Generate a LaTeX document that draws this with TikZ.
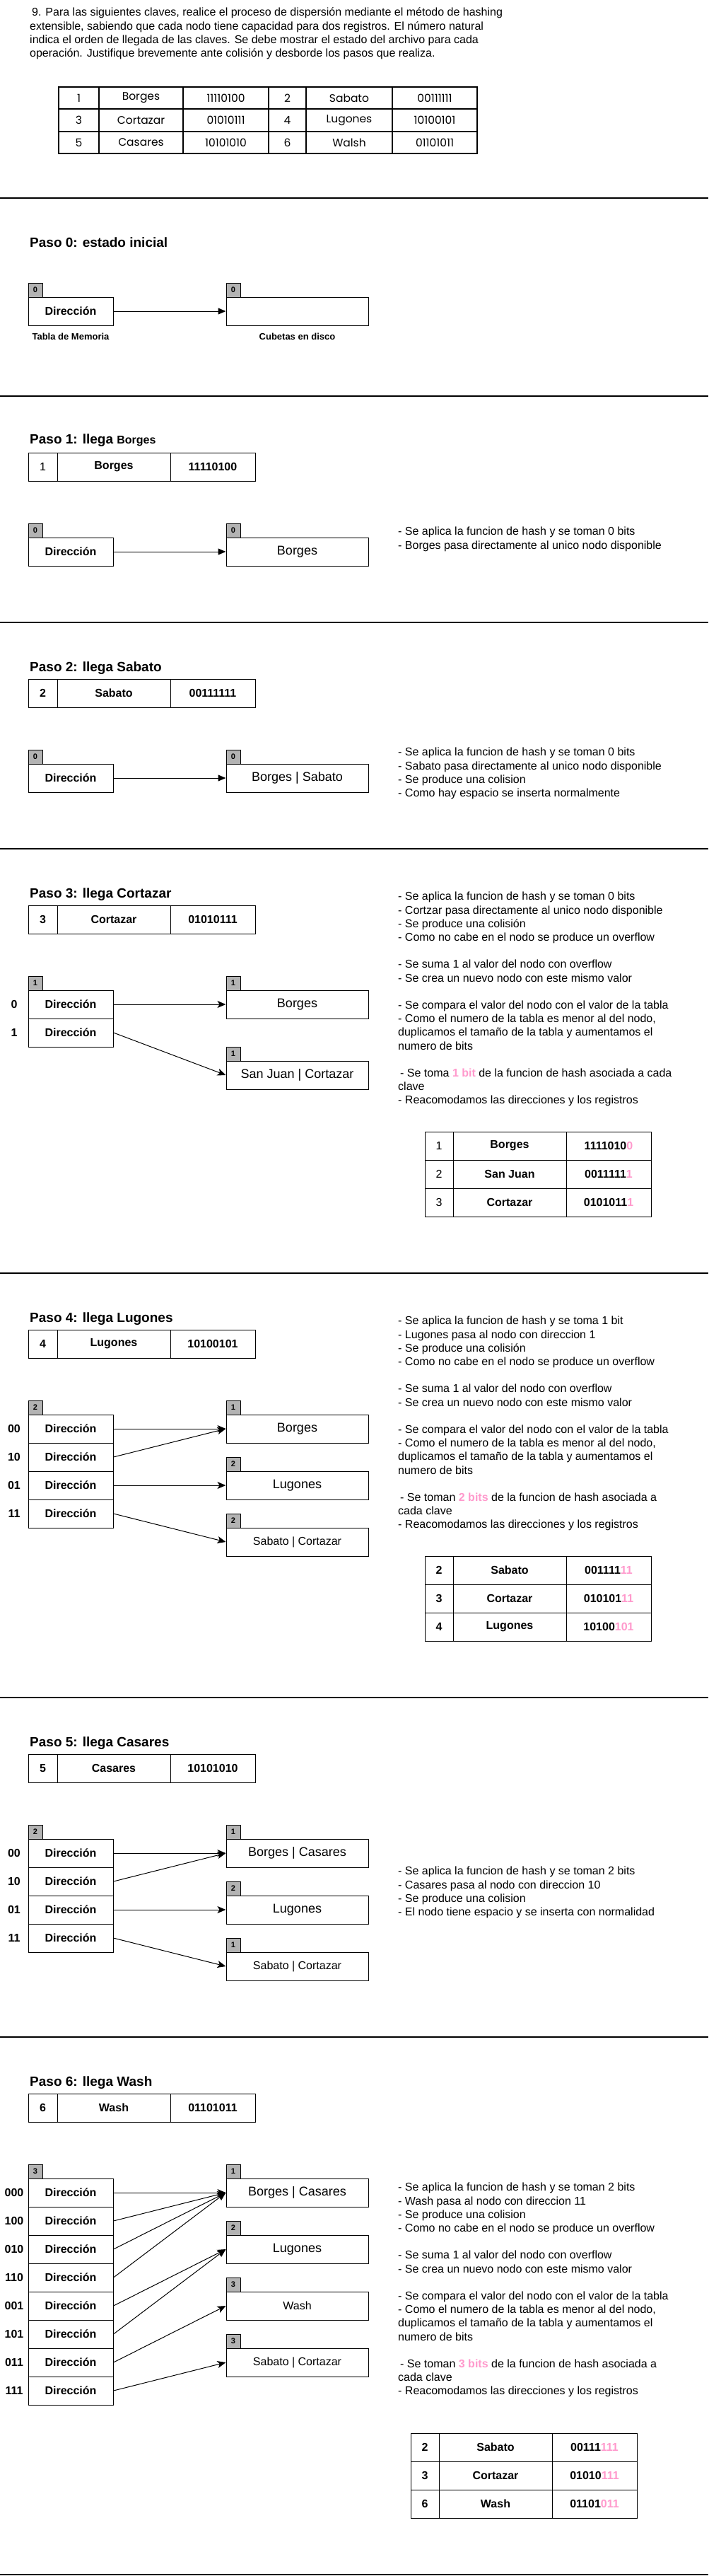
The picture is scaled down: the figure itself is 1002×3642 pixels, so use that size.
\documentclass[tikz,border=0pt]{standalone}
\usepackage{fontspec}
\setmainfont{Liberation Sans}
\newfontfamily\gothicfont{Poppins}
\usetikzlibrary{arrows.meta}

\definecolor{tagGray}{RGB}{179,179,179}
\definecolor{bitPink}{RGB}{255,153,204}
\newcommand{\rosa}[1]{\textbf{\textcolor{bitPink}{#1}}}
\newcommand{\chico}{\fontsize{16}{19}\selectfont}

\begin{document}
\begin{tikzpicture}[x=1pt, y=-1pt,
	titulo/.style={anchor=base west, inner sep=0pt, font=\bfseries\fontsize{19}{23}\selectfont},
	celda/.style={draw, line width=1pt, minimum height=40pt, inner sep=0pt, font=\bfseries\fontsize{16}{19}\selectfont},
	gcelda/.style={draw, line width=1.8pt, minimum height=31.5pt, inner sep=0pt, font=\gothicfont\fontsize{15.5}{18}\selectfont},
	dirbox/.style={draw, line width=1pt, minimum width=120pt, minimum height=40pt, inner sep=0pt, font=\bfseries\fontsize{16}{19}\selectfont},
	cubeta/.style={draw, line width=1pt, minimum width=201pt, minimum height=40pt, inner sep=0pt, font=\fontsize{18}{21}\selectfont},
	prof/.style={draw, line width=1pt, fill=tagGray, minimum width=20pt, minimum height=20pt, inner sep=0pt, font=\bfseries\fontsize{11}{13}\selectfont},
	etiq/.style={inner sep=0pt, font=\bfseries\fontsize{16}{19}\selectfont},
	nota/.style={anchor=north west, align=left, inner sep=0pt, font=\fontsize{16}{19.2}\selectfont},
	flecha/.style={line width=1pt, -{Stealth[length=12pt, width=10pt, inset=3pt]}},
	bloque/.style={line width=1pt, -{Triangle[length=11pt, width=9pt]}},
	corte/.style={line width=1.5pt}
]
	\useasboundingbox (0,0) rectangle (1002,3642);

	% ---- Enunciado ----
	\node[anchor=north west, align=left, inner sep=0pt, font=\fontsize{16}{19.3}\selectfont] (enunciado) at (42,11)
	{\hspace*{3pt}9. Para las siguientes claves, realice el proceso de dispersión mediante el método de hashing\\
	extensible, sabiendo que cada nodo tiene capacidad para dos registros. El número natural\\
	indica el orden de llegada de las claves. Se debe mostrar el estado del archivo para cada\\
	operación. Justifique brevemente ante colisión y desborde los pasos que realiza.};

	% ---- Tabla de claves ----
	\foreach \r/\y/\na/\ka/\ca/\nb/\kb/\cb in {
		1/138.5/1/Borges/11110100/2/Sabato/00111111,
		2/170/3/Cortazar/01010111/4/Lugones/10100101,
		3/201.5/5/Casares/10101010/6/Walsh/01101011
	}
	{
		\node[gcelda, minimum width=57pt] (t\r-1) at (111.5,\y) {\na};
		\node[gcelda, minimum width=119pt] (t\r-2) at (199.5,\y) {\ka};
		\node[gcelda, minimum width=121pt] (t\r-3) at (319.5,\y) {\ca};
		\node[gcelda, minimum width=53pt] (t\r-4) at (406.5,\y) {\nb};
		\node[gcelda, minimum width=122pt] (t\r-5) at (494,\y) {\kb};
		\node[gcelda, minimum width=120pt] (t\r-6) at (615,\y) {\cb};
	}

	% ---- Separadores ----
	\foreach \y in {280,560,880,1200,1800,2400,2880,3640}
	\draw[corte] (0,\y) -- (1002,\y);

	% ---- Titulos de cada paso ----
	\foreach \p/\y/\txt in {
		0/349/Paso 0: estado inicial,
		1/627/Paso 1: llega {\chico Borges},
		2/949/Paso 2: llega Sabato,
		3/1269/Paso 3: llega Cortazar,
		4/1869/Paso 4: llega Lugones,
		5/2469/Paso 5: llega Casares,
		6/2949/Paso 6: llega Wash
	}
	\node[titulo] (h\p) at (42,\y) {\txt};

	% ---- Clave que llega ----
	\foreach \p/\y/\num/\nom/\cod in {
		1/660/{\mdseries 1}/Borges/11110100,
		2/980/2/Sabato/00111111,
		3/1300/3/Cortazar/01010111,
		4/1900/4/Lugones/10100101,
		5/2500/5/Casares/10101010,
		6/2980/6/Wash/01101011
	}
	{
		\node[celda, minimum width=41pt] (k\p-num) at (60.5,\y) {\num};
		\node[celda, minimum width=160pt] (k\p-nom) at (161,\y) {\nom};
		\node[celda, minimum width=120pt] (k\p-cod) at (301,\y) {\cod};
	}

	% ---- Pasos 0 a 2: una direccion, una cubeta ----
	\foreach \p/\y/\d/\txt in {0/440/0/, 1/780/0/Borges, 2/1100/0/Borges | Sabato}
	{
		\node[prof] (d\p-t) at (50,\y-30) {\d};
		\node[dirbox] (d\p1) at (100,\y) {Dirección};
		\node[prof] (c\p-t) at (330,\y-30) {\d};
		\node[cubeta] (c\p a) at (420.5,\y) {\txt};
		\draw[bloque] (d\p1.east) -- (c\p a.west);
	}
	\node[etiq, font=\bfseries\fontsize{13}{15}\selectfont] (memoria) at (100,476) {Tabla de Memoria};
	\node[etiq, font=\bfseries\fontsize{13}{15}\selectfont] (disco) at (420.5,476) {Cubetas en disco};

	\node[nota] (n1) at (563,745) {- Se aplica la funcion de hash y se toman 0 bits\\
	- Borges pasa directamente al unico nodo disponible};
	\node[nota] (n2) at (563,1057) {- Se aplica la funcion de hash y se toman 0 bits\\
	- Sabato pasa directamente al unico nodo disponible\\
	- Se produce una colision\\
	- Como hay espacio se inserta normalmente};

	% ---- Paso 3 ----
	\node[prof] (d3-t) at (50,1390) {1};
	\foreach \lab [count=\i] in {0,1}
	{
		\node[dirbox] (d3\i) at (100,1380+40*\i) {Dirección};
		\node[etiq] (d3\i-lab) at (20,1380+40*\i) {\lab};
	}
	\foreach \n/\y/\d/\txt in {a/1420/1/Borges, b/1520/1/San Juan | Cortazar}
	{
		\node[prof] (c3\n-t) at (330,\y-30) {\d};
		\node[cubeta] (c3\n) at (420.5,\y) {\txt};
	}
	\foreach \i/\c in {1/a, 2/b}
	\draw[flecha] (d3\i.east) -- (c3\c.west);

	\node[nota] (n3) at (563,1261) {- Se aplica la funcion de hash y se toman 0 bits\\
	- Cortzar pasa directamente al unico nodo disponible\\
	- Se produce una colisión\\
	- Como no cabe en el nodo se produce un overflow\\[19.2pt]
	- Se suma 1 al valor del nodo con overflow\\
	- Se crea un nuevo nodo con este mismo valor\\[19.2pt]
	- Se compara el valor del nodo con el valor de la tabla\\
	- Como el numero de la tabla es menor al del nodo,\\
	duplicamos el tamaño de la tabla y aumentamos el\\
	numero de bits\\[19.2pt]
	\hspace*{3pt}- Se toma \rosa{1 bit} de la funcion de hash asociada a cada\\
	clave\\
	- Reacomodamos las direcciones y los registros};

	\foreach \r/\num/\nom/\cod in {1/1/Borges/1111010\rosa{0}, 2/2/San Juan/0011111\rosa{1}, 3/3/Cortazar/0101011\rosa{1}}
	{
		\node[celda, minimum width=40pt, font=\fontsize{16}{19}\selectfont] (r3-\r-num) at (621,1580+40*\r) {\num};
		\node[celda, minimum width=160pt] (r3-\r-nom) at (721,1580+40*\r) {\nom};
		\node[celda, minimum width=120pt] (r3-\r-cod) at (861,1580+40*\r) {\cod};
	}

	% ---- Paso 4 ----
	\node[prof] (d4-t) at (50,1990) {2};
	\foreach \lab [count=\i] in {00,10,01,11}
	{
		\node[dirbox] (d4\i) at (100,1980+40*\i) {Dirección};
		\node[etiq] (d4\i-lab) at (20,1980+40*\i) {\lab};
	}
	\foreach \n/\y/\d/\txt in {a/2020/1/Borges, b/2100/2/Lugones, c/2180/2/{\chico Sabato | Cortazar}}
	{
		\node[prof] (c4\n-t) at (330,\y-30) {\d};
		\node[cubeta] (c4\n) at (420.5,\y) {\txt};
	}
	\foreach \i/\c in {1/a, 2/a, 3/b, 4/c}
	\draw[flecha] (d4\i.east) -- (c4\c.west);

	\node[nota] (n4) at (563,1861) {- Se aplica la funcion de hash y se toma 1 bit\\
	- Lugones pasa al nodo con direccion 1\\
	- Se produce una colisión\\
	- Como no cabe en el nodo se produce un overflow\\[19.2pt]
	- Se suma 1 al valor del nodo con overflow\\
	- Se crea un nuevo nodo con este mismo valor\\[19.2pt]
	- Se compara el valor del nodo con el valor de la tabla\\
	- Como el numero de la tabla es menor al del nodo,\\
	duplicamos el tamaño de la tabla y aumentamos el\\
	numero de bits\\[19.2pt]
	\hspace*{3pt}- Se toman \rosa{2 bits} de la funcion de hash asociada a\\
	cada clave\\
	- Reacomodamos las direcciones y los registros};

	\foreach \r/\num/\nom/\cod in {1/2/Sabato/001111\rosa{11}, 2/3/Cortazar/010101\rosa{11}, 3/4/Lugones/10100\rosa{101}}
	{
		\node[celda, minimum width=40pt] (r4-\r-num) at (621,2180+40*\r) {\num};
		\node[celda, minimum width=160pt] (r4-\r-nom) at (721,2180+40*\r) {\nom};
		\node[celda, minimum width=120pt] (r4-\r-cod) at (861,2180+40*\r) {\cod};
	}

	% ---- Paso 5 ----
	\node[prof] (d5-t) at (50,2590) {2};
	\foreach \lab [count=\i] in {00,10,01,11}
	{
		\node[dirbox] (d5\i) at (100,2580+40*\i) {Dirección};
		\node[etiq] (d5\i-lab) at (20,2580+40*\i) {\lab};
	}
	\foreach \n/\y/\d/\txt in {a/2620/1/Borges | Casares, b/2700/2/Lugones, c/2780/1/{\chico Sabato | Cortazar}}
	{
		\node[prof] (c5\n-t) at (330,\y-30) {\d};
		\node[cubeta] (c5\n) at (420.5,\y) {\txt};
	}
	\foreach \i/\c in {1/a, 2/a, 3/b, 4/c}
	\draw[flecha] (d5\i.east) -- (c5\c.west);

	\node[nota] (n5) at (563,2639) {- Se aplica la funcion de hash y se toman 2 bits\\
	- Casares pasa al nodo con direccion 10\\
	- Se produce una colision\\
	- El nodo tiene espacio y se inserta con normalidad};

	% ---- Paso 6 ----
	\node[prof] (d6-t) at (50,3070) {3};
	\foreach \lab [count=\i] in {000,100,010,110,001,101,011,111}
	{
		\node[dirbox] (d6\i) at (100,3060+40*\i) {Dirección};
		\node[etiq] (d6\i-lab) at (20,3060+40*\i) {\lab};
	}
	\foreach \n/\y/\d/\txt in {a/3100/1/Borges | Casares, b/3180/2/Lugones, c/3260/3/{\chico Wash}, d/3340/3/{\chico Sabato | Cortazar}}
	{
		\node[prof] (c6\n-t) at (330,\y-30) {\d};
		\node[cubeta] (c6\n) at (420.5,\y) {\txt};
	}
	\foreach \i/\c in {1/a, 2/a, 3/a, 4/a, 5/b, 6/b, 7/c, 8/d}
	\draw[flecha] (d6\i.east) -- (c6\c.west);

	\node[nota] (n6) at (563,3086) {- Se aplica la funcion de hash y se toman 2 bits\\
	- Wash pasa al nodo con direccion 11\\
	- Se produce una colision\\
	- Como no cabe en el nodo se produce un overflow\\[19.2pt]
	- Se suma 1 al valor del nodo con overflow\\
	- Se crea un nuevo nodo con este mismo valor\\[19.2pt]
	- Se compara el valor del nodo con el valor de la tabla\\
	- Como el numero de la tabla es menor al del nodo,\\
	duplicamos el tamaño de la tabla y aumentamos el\\
	numero de bits\\[19.2pt]
	\hspace*{3pt}- Se toman \rosa{3 bits} de la funcion de hash asociada a\\
	cada clave\\
	- Reacomodamos las direcciones y los registros};

	\foreach \r/\num/\nom/\cod in {1/2/Sabato/00111\rosa{111}, 2/3/Cortazar/01010\rosa{111}, 3/6/Wash/01101\rosa{011}}
	{
		\node[celda, minimum width=40pt] (r6-\r-num) at (601,3420+40*\r) {\num};
		\node[celda, minimum width=160pt] (r6-\r-nom) at (701,3420+40*\r) {\nom};
		\node[celda, minimum width=120pt] (r6-\r-cod) at (841,3420+40*\r) {\cod};
	}

\end{tikzpicture}
\end{document}
